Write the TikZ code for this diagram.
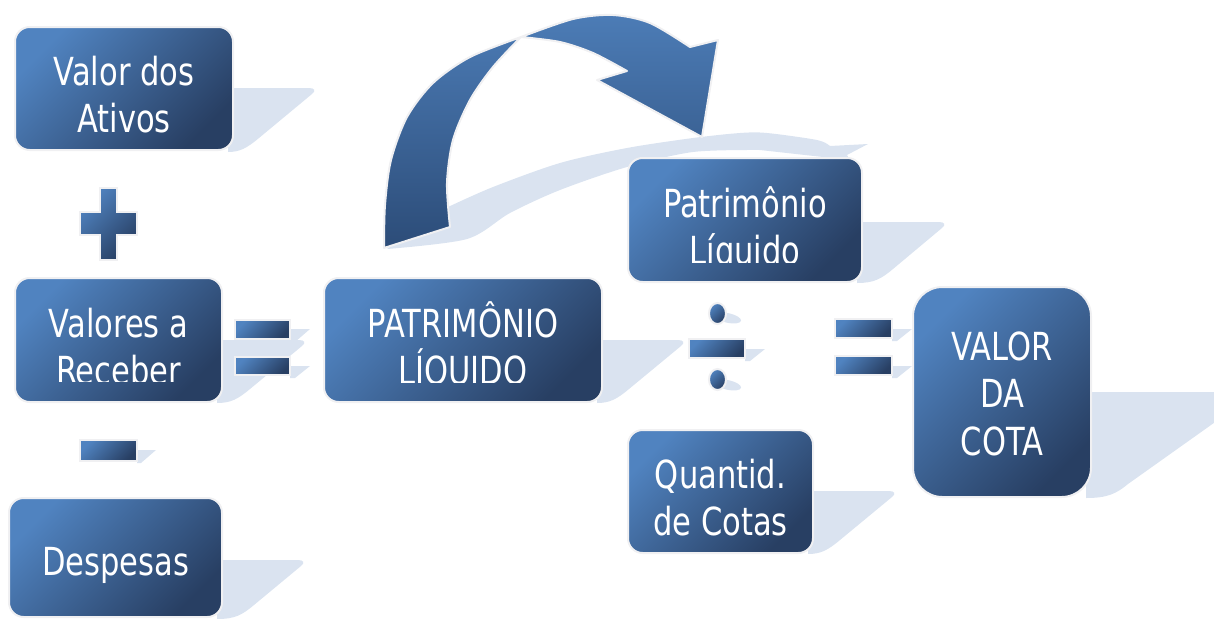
\documentclass[tikz,border=0pt]{standalone}
\usepackage{fontspec}
\setmainfont{DejaVu Sans}[FakeStretch=0.79]
\definecolor{boxlight}{RGB}{80,131,192}
\definecolor{boxdark}{RGB}{40,63,99}
\definecolor{edgegray}{RGB}{240,240,242}
\definecolor{shadowc}{RGB}{218,227,240}
\definecolor{arrowlight}{RGB}{76,124,182}
\definecolor{arrowdark}{RGB}{44,76,120}
\tikzset{
  box/.style={rectangle, rounded corners=11pt, top color=boxlight, bottom color=boxdark, shading angle=45, draw=edgegray, line width=1.5pt, inner sep=0pt},
  sign/.style={rectangle, top color=boxlight, bottom color=boxdark, shading angle=45, draw=edgegray, line width=1.5pt, inner sep=0pt},
  shadowfill/.style={fill=shadowc},
  txt/.style={text=white, font=\fontsize{29pt}{34pt}\selectfont, inner sep=0pt, anchor=base},
  bigarrow/.style={top color=arrowlight, bottom color=arrowdark, draw=edgegray, line width=1.5pt, line join=round},
}
\begin{document}
\begin{tikzpicture}[x=0.75pt, y=-0.75pt]
\useasboundingbox (0,0) rectangle (1214,618);
\clip (0,0) rectangle (1214,618);

% ---------- shadows ----------
% arrow shadow
\path[fill=shadowc] plot[smooth] coordinates {(387,249) (467,239) (510,213) (560,190) (627,167) (693,152) (760,150)}
  -- (850,160) -- (847,155) -- (868,144) -- (830,146)
  -- plot[smooth] coordinates {(830,146) (817,140) (767,133) (740,133) (693,138) (627,148) (560,163) (493,187) (448,207)}
  -- cycle;
% box shadows
\path[shadowfill] (228,88) -- (309,88) .. controls (315,88) and (316,91) .. (312,94) -- (259,138) .. controls (247,148) and (240,152) .. (228,152) -- cycle;
\path[shadowfill] (217,340) -- (299,340) .. controls (305,340) and (306,343) .. (302,346) -- (250,389) .. controls (238,399) and (231,403) .. (217,403) -- cycle;
\path[shadowfill] (217,560) -- (298,560) .. controls (304,560) and (305,563) .. (301,566) -- (254,605) .. controls (242,615) and (235,619) .. (217,619) -- cycle;
\path[shadowfill] (597,340) -- (678,340) .. controls (684,340) and (685,343) .. (681,346) -- (629,389) .. controls (617,399) and (610,403) .. (597,403) -- cycle;
\path[shadowfill] (857,222) -- (939,222) .. controls (945,222) and (946,225) .. (942,228) -- (893,269) .. controls (881,279) and (874,283) .. (857,283) -- cycle;
\path[shadowfill] (808,491) -- (889,491) .. controls (895,491) and (896,494) .. (892,497) -- (840,540) .. controls (828,550) and (821,554) .. (808,554) -- cycle;
\path[shadowfill] (1086,392) -- (1246,392) .. controls (1252,392) and (1253,395) .. (1249,398) -- (1128,484) .. controls (1116,494) and (1107,498) .. (1086,498) -- cycle;
% sign shadows
\path[fill=shadowc] (290,329) -- (310,329) -- (295,342) -- (290,342) -- cycle;
\path[fill=shadowc] (290,366) -- (310,366) -- (295,378) -- (290,378) -- cycle;
\path[fill=shadowc] (892,329) -- (912,329) -- (897,341) -- (892,341) -- cycle;
\path[fill=shadowc] (892,366) -- (912,366) -- (897,378) -- (892,378) -- cycle;
\path[fill=shadowc] (137,450) -- (156,450) -- (141,463) -- (137,463) -- cycle;
\path[fill=shadowc] (745,349) -- (765,349) -- (750,361) -- (745,361) -- cycle;
\path[fill=shadowc, rotate around={-12:(728,318)}] (728,318) ellipse [x radius=10pt, y radius=3.6pt];
\path[fill=shadowc, rotate around={-12:(728,385)}] (728,385) ellipse [x radius=10pt, y radius=3.6pt];

% ---------- curved arrow ----------
\path[bigarrow] plot[smooth] coordinates {(384,248) (385,205) (391,160) (407,117) (433,83) (470,57) (521,37)}
  -- plot[smooth] coordinates {(521,37) (573,19) (613,15) (650,23) (690,47)}
  -- (718,40) -- (702,137) -- (597,80) -- (627,71)
  -- plot[smooth] coordinates {(627,71) (593,53) (560,42) (521,37)}
  -- plot[smooth] coordinates {(521,37) (493,67) (470,100) (453,140) (447,183) (450,227)}
  -- cycle;

% ---------- boxes ----------
\node[box, minimum width=163.5pt, minimum height=92.25pt] (va) at (124,88.5) {};
\node[box, minimum width=155.25pt, minimum height=93pt] (vr) at (118.5,340) {};
\node[box, minimum width=159.75pt, minimum height=89.25pt] (de) at (115.5,557.5) {};
\node[box, minimum width=208.5pt, minimum height=93pt] (pl) at (463,340) {};
\node[box, minimum width=175.5pt, minimum height=93pt] (pn) at (745,220) {};
\node[box, minimum width=138.75pt, minimum height=92.25pt] (qc) at (720.5,491.5) {};
\node[box, rounded corners=22pt, minimum width=133.5pt, minimum height=157.5pt] (vc) at (1002,392) {};

% ---------- signs ----------
\path[sign] (100,188) -- (117,188) -- (117,212) -- (137,212) -- (137,235) -- (117,235) -- (117,260)
  -- (100,260) -- (100,235) -- (80,235) -- (80,212) -- (100,212) -- cycle;
\node[sign, minimum width=42.75pt, minimum height=15.75pt] (minus) at (108.5,450.5) {};
\node[sign, minimum width=41.25pt, minimum height=14.25pt] (eqla) at (262.5,329.5) {};
\node[sign, minimum width=41.25pt, minimum height=13.5pt] (eqlb) at (262.5,366) {};
\node[sign, minimum width=42.75pt, minimum height=14.25pt] (eqra) at (863.5,328.5) {};
\node[sign, minimum width=42.75pt, minimum height=14.25pt] (eqrb) at (863.5,365.5) {};
\node[sign, minimum width=42pt, minimum height=14.25pt] (divbar) at (717,348.5) {};
\path[sign] (717.5,313.5) ellipse [x radius=6.4pt, y radius=7.9pt];
\path[sign] (717.5,379.5) ellipse [x radius=6.4pt, y radius=7.9pt];

% ---------- texts ----------
\node[txt] (va1) at (124,85) {Valor dos};
\node[txt] (va2) at (124,132) {Ativos};
\node[txt] (vr1) at (118.5,337) {Valores a};
\begin{scope}
  \clip (15,278) rectangle (222,381);
  \node[txt] (vr2) at (118.5,384) {Receber};
\end{scope}
\node[txt] (de1) at (115.5,575) {Despesas};
\node[txt] (pl1) at (463,337) {PATRIMÔNIO};
\begin{scope}
  \clip (324,278) rectangle (602,382);
  \node[txt] (pl2) at (463,384) {LÍQUIDO};
\end{scope}
\node[txt] (pn1) at (745,217) {Patrimônio};
\begin{scope}
  \clip (628,158) rectangle (862,262);
  \node[txt] (pn2) at (745,264) {Líquido};
\end{scope}
\node[txt] (qc1) at (720.5,488) {Quantid.};
\node[txt] (qc2) at (720.5,535) {de Cotas};
\node[txt] (vc1) at (1002,360) {VALOR};
\node[txt] (vc2) at (1002,407) {DA};
\node[txt] (vc3) at (1002,455) {COTA};
\end{tikzpicture}
\end{document}
